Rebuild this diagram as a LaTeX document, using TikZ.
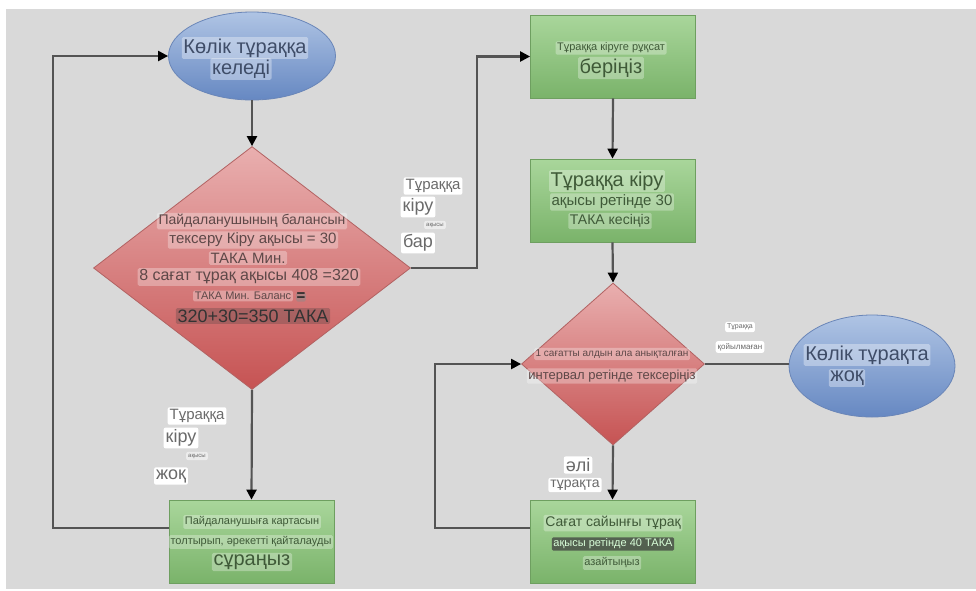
\documentclass[tikz,border=0pt]{standalone}
\usepackage{fontspec}
\setmainfont{Liberation Sans}
\usetikzlibrary{shapes.geometric,arrows.meta}

\definecolor{paper}{HTML}{D9D9D9}
\definecolor{wiregray}{HTML}{545454}
\definecolor{bluetop}{HTML}{AFC4E4}
\definecolor{bluebot}{HTML}{6688C2}
\definecolor{blueedge}{HTML}{6A86B8}
\definecolor{bluetext}{HTML}{3F4D68}
\definecolor{redtop}{HTML}{E9AFAF}
\definecolor{redbot}{HTML}{C65353}
\definecolor{rededge}{HTML}{B26262}
\definecolor{redtext}{HTML}{5E4848}
\definecolor{greentop}{HTML}{A9D69B}
\definecolor{greenbot}{HTML}{7AB36A}
\definecolor{greenedge}{HTML}{6E9F60}
\definecolor{greentext}{HTML}{3F5A38}
\definecolor{labeltext}{HTML}{6A6A6A}

\newcommand\fsz[1]{\fontsize{#1}{#1}\selectfont}

\tikzset{
  terminal/.style={ellipse, draw=blueedge, line width=0.8pt,
    top color=bluetop, bottom color=bluebot, inner sep=0pt},
  decision/.style={diamond, draw=rededge, line width=0.8pt,
    top color=redtop, bottom color=redbot, inner sep=0pt},
  process/.style={rectangle, draw=greenedge, line width=0.8pt,
    top color=greentop, bottom color=greenbot, inner sep=0pt,
    minimum width=165pt, minimum height=83pt},
  hl/.style={inner sep=1.6pt, rounded corners=1.5pt, text opacity=1},
  hlblue/.style={hl, fill=white, fill opacity=0.35, text=bluetext},
  hlred/.style={hl, fill=white, fill opacity=0.3, text=redtext},
  hlgreen/.style={hl, fill=white, fill opacity=0.3, text=greentext},
  edgetag/.style={inner sep=2pt, rounded corners=2pt, fill=white, text=labeltext},
  wire/.style={draw=wiregray, line width=2.2pt},
  arrowwire/.style={wire, -{Triangle[length=10pt,width=10pt,color=black]}},
}

\begin{document}
\begin{tikzpicture}[x=1pt, y=-1pt]
  % page and grey canvas
  \fill[white] (0,0) rectangle (976,590);
  \fill[paper] (6,9) rectangle (976,589);
  \useasboundingbox (0,0) rectangle (976,590);

  % shapes
  \node[terminal, minimum width=167pt, minimum height=88pt] (e1) at (252,56) {};
  \node[decision, minimum width=317pt, minimum height=243pt] (d1) at (252,268) {};
  \node[process] (b1) at (251.5,541.5) {};
  \node[process] (r1) at (613,56.5) {};
  \node[process] (r2) at (612.5,200.5) {};
  \node[decision, minimum width=183pt, minimum height=162pt] (d2) at (613,364) {};
  \node[terminal, minimum width=166pt, minimum height=102pt] (e2) at (872,366) {};
  \node[process] (b2) at (612.5,541.5) {};

  % bend points of the connectors
  \coordinate (k1) at (477,268);
  \coordinate (k2) at (435,528);
  \coordinate (k3) at (53,528);

  % connectors
  \draw[arrowwire] (e1.south) -- (d1.north);
  \draw[arrowwire] (d1.south) -- (b1.north);
  \draw[arrowwire] (d1.east) -- (k1) |- (r1.west);
  \draw[arrowwire] (r1.south) -- (r2.north);
  \draw[arrowwire] (r2.south) -- (d2.north);
  \draw[wire] (d2.east) -- (d2.east -| e2.west);
  \draw[arrowwire] (d2.south) -- (b2.north);
  \draw[arrowwire] (k2 -| b2.west) -- (k2) |- (d2.west);
  \draw[arrowwire] (k3 -| b1.west) -- (k3) |- (e1.west);

  % text of the start ellipse
  \node[hlblue, font=\fsz{20}] (e1a) at (245,48) {Көлік тұраққа};
  \node[hlblue, font=\fsz{20}] (e1b) at (241,69) {келеді};

  % text of the balance check
  \node[hlred, font=\fsz{14}] (d1a) at (252,221) {Пайдаланушының балансын};
  \node[hlred, font=\fsz{15}] (d1b) at (253,240) {тексеру Кіру ақысы = 30};
  \node[hlred, font=\fsz{15}] (d1c) at (248,258) {ТАКА Мин.};
  \node[hlred, font=\fsz{16}] (d1d) at (249,277) {8 сағат тұрақ ақысы 408 =320};
  \node[hlred, font=\fsz{11}] (d1e) at (243,296) {ТАКА Мин. Баланс};
  \node[hl, inner sep=0.6pt, fill=black!45, fill opacity=0.5, text=black!85, font=\fsz{15}\bfseries] (d1f) at (301,297) {=};
  \node[hl, fill=redtext, fill opacity=0.35, text=black!80, font=\fsz{18}] (d1g) at (253,316) {320+30=350 ТАКА};

  % labels on the "yes" branch
  \node[edgetag, font=\fsz{15}] (ya) at (433,186) {Тұраққа};
  \node[edgetag, font=\fsz{18}] (yb) at (418,207) {кіру};
  \node[edgetag, fill opacity=0.5, text opacity=1, font=\fsz{6}] (yc) at (435,225) {ақысы};
  \node[edgetag, font=\fsz{18}] (yd) at (418,243) {бар};

  % labels on the "no" branch
  \node[edgetag, font=\fsz{15}] (na) at (197,416) {Тұраққа};
  \node[edgetag, font=\fsz{18}] (nb) at (181,438) {кіру};
  \node[edgetag, fill opacity=0.5, text opacity=1, font=\fsz{6}] (nc) at (197,456) {ақысы};
  \node[edgetag, font=\fsz{18}] (nd) at (171,476) {жоқ};

  % text of the retry box
  \node[hlgreen, font=\fsz{11}] (b1a) at (252,522) {Пайдаланушыға картасын};
  \node[hlgreen, font=\fsz{11}] (b1b) at (251,542) {толтырып, әрекетті қайталауды};
  \node[hlgreen, font=\fsz{20}] (b1c) at (252,562) {сұраңыз};

  % text of the entry box
  \node[hlgreen, font=\fsz{11}] (r1a) at (611,48) {Тұраққа кіруге рұқсат};
  \node[hlgreen, font=\fsz{20}] (r1b) at (611,68) {беріңіз};

  % text of the fee box
  \node[hlgreen, font=\fsz{20}] (r2a) at (607,181) {Тұраққа кіру};
  \node[hlgreen, font=\fsz{15}] (r2b) at (612,202) {ақысы ретінде 30};
  \node[hlgreen, font=\fsz{14}] (r2c) at (610,221) {ТАКА кесіңіз};

  % text of the interval check
  \node[hlred, font=\fsz{10}] (d2a) at (612,354) {1 сағатты алдын ала анықталған};
  \node[hlred, font=\fsz{13}] (d2b) at (612,376) {интервал ретінде тексеріңіз};

  % labels towards the end ellipse
  \node[edgetag, font=\fsz{7}] (ta) at (740,327) {Тұраққа};
  \node[edgetag, font=\fsz{8}] (tb) at (740,347) {қойылмаған};

  % text of the end ellipse
  \node[hlblue, font=\fsz{20}] (e2a) at (867,355) {Көлік тұрақта};
  \node[hlblue, font=\fsz{20}] (e2b) at (847,378) {жоқ};

  % labels on the "still parked" branch
  \node[edgetag, font=\fsz{18}] (sa) at (578,465) {әлі};
  \node[edgetag, font=\fsz{14}] (sb) at (575,485) {тұрақта};

  % text of the hourly charge box
  \node[hlgreen, font=\fsz{14}] (b2a) at (613,523) {Сағат сайынғы тұрақ};
  \node[hl, fill=black!75, fill opacity=0.75, text=white!85!green, font=\fsz{11}] (b2b) at (613,544) {ақысы ретінде 40 ТАКА};
  \node[hlgreen, font=\fsz{11}] (b2c) at (612,563) {азайтыңыз};
\end{tikzpicture}
\end{document}
